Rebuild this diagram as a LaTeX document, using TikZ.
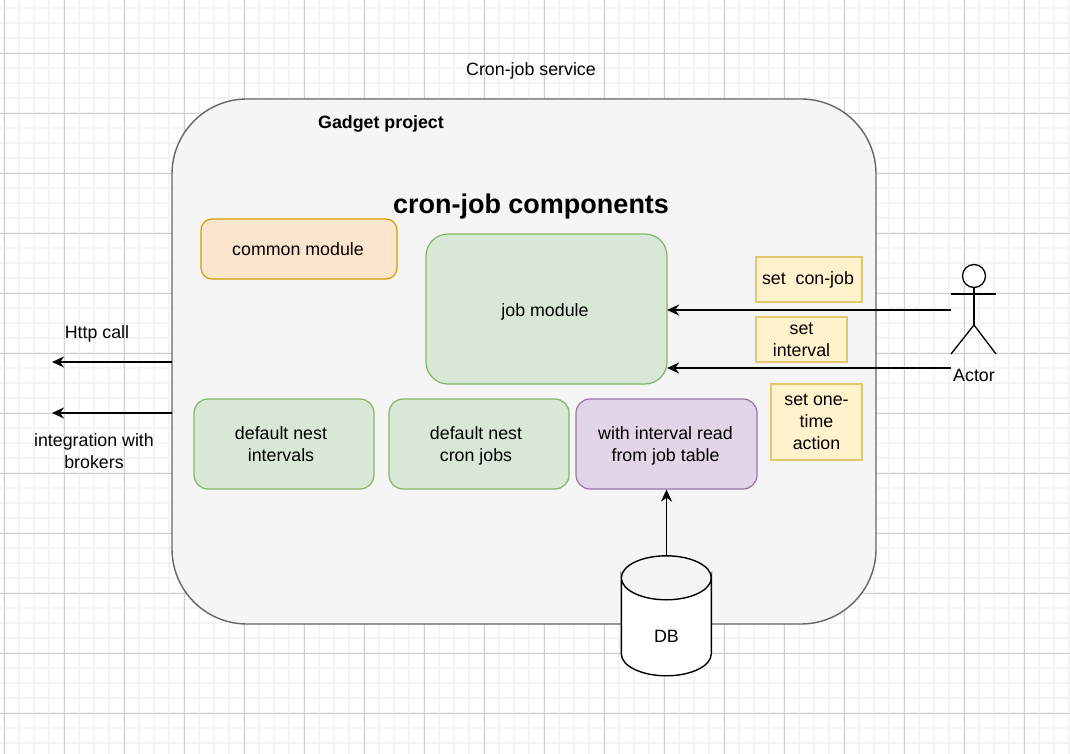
\documentclass[tikz,border=0pt]{standalone}
\usepackage{fontspec}
\setmainfont{Liberation Sans}
\usetikzlibrary{arrows.meta}
\definecolor{gmaj}{HTML}{CFCFCF}
\definecolor{gmin}{HTML}{F4F4F4}
\tikzset{
  x=1pt,y=-1pt,
  txt/.style={font=\fontsize{17.8}{22}\selectfont,align=center,inner sep=0pt,text=black},
  rbox/.style={draw=#1,line width=1.2pt,rounded corners=11pt,txt,inner sep=0pt},
  yellowbox/.style={draw=yel,fill=yelf,line width=1.4pt,txt,inner sep=0pt},
  conn/.style={draw=black,line width=1.5pt,-{Stealth[length=12pt,width=11pt]}},
  actorline/.style={draw=black,line width=1.3pt},
}
\definecolor{grnf}{HTML}{D9E8D6}\definecolor{grn}{HTML}{82B366}
\definecolor{orf}{HTML}{FBE5CD}\definecolor{orl}{HTML}{D79B00}
\definecolor{purf}{HTML}{E1D5E7}\definecolor{pur}{HTML}{9673A6}
\definecolor{yelf}{HTML}{FFF2CC}\definecolor{yel}{HTML}{E3C76F}
\begin{document}
\begin{tikzpicture}
\useasboundingbox (0,0) rectangle (1070,754);
\fill[white] (0,0) rectangle (1070,754);
% grid
\foreach \i in {0,...,71} {\draw[gmin,line width=1.6pt] ({4+15*\i},0) -- ({4+15*\i},754);}
\foreach \i in {-3,...,50} {\draw[gmin,line width=1.6pt] (0,{53+15*\i}) -- (1070,{53+15*\i});}
\foreach \i in {0,...,17} {\draw[gmaj,line width=0.8pt] ({4+60*\i},0) -- ({4+60*\i},754);}
\foreach \i in {0,...,12} {\draw[gmaj,line width=0.8pt] (0,{-7+60*\i}) -- (1070,{-7+60*\i});}
% container
\node[draw=black!60,fill=black!4,line width=1.4pt,rounded corners=75pt,minimum width=704pt,minimum height=525pt,inner sep=0pt] (project) at (524,361.5) {};
\node[txt] (title) at (531,71) {Cron-job service};
\node[txt,font=\fontsize{17.8}{22}\selectfont\bfseries] (gadget) at (381,124) {Gadget project};
\node[txt,font=\fontsize{27}{30}\selectfont\bfseries] (comps) at (531,207) {cron-job components};
% modules
\node[rbox=orl,fill=orf,minimum width=196pt,minimum height=60pt] (common) at (299,249) {\hspace*{-2pt}common module};
\node[rbox=grn,fill=grnf,rounded corners=22pt,minimum width=241pt,minimum height=150pt] (job) at (546.5,309) {\rule{0pt}{18pt}\hspace*{-3pt}job module};
\node[rbox=grn,fill=grnf,rounded corners=14pt,minimum width=180pt,minimum height=90pt] (intervals) at (284,444) {\hspace*{-6pt}default nest\\\hspace*{-6pt}intervals};
\node[rbox=grn,fill=grnf,rounded corners=14pt,minimum width=180pt,minimum height=90pt] (cron) at (479,444) {\rule{0pt}{16pt}\hspace*{-6pt}default nest\\\hspace*{-6pt}cron jobs};
\node[rbox=pur,fill=purf,rounded corners=14pt,minimum width=181pt,minimum height=90pt] (table) at (666.5,444) {\rule{0pt}{16pt}\hspace*{-2pt}with interval read\\\hspace*{-2pt}from job table};
% yellow labels
\node[yellowbox,minimum width=106pt,minimum height=45pt] (l1) at (809,279.5) {\hspace*{-2pt}set\ \ con-job};
\node[yellowbox,minimum width=91pt,minimum height=45pt] (l2) at (801.5,339.5) {set\\interval};
\node[yellowbox,minimum width=91pt,minimum height=76pt] (l3) at (816.5,422) {set one-\\time\\action};
% actor
\coordinate (actorA) at (951,310);
\coordinate (actorB) at (951,368);
\node[draw=black,fill=white,circle,line width=1.3pt,minimum size=23pt,inner sep=0pt] (head) at (974,276) {};
\coordinate (hip) at (974,325);
\coordinate (armL) at (951,294);
\coordinate (armR) at (996,294);
\coordinate (legL) at (951,354);
\coordinate (legR) at (996,354);
\draw[actorline] (head.south) -- (hip);
\draw[actorline] (armL) -- (armR);
\draw[actorline] (legL) -- (hip) -- (legR);
\node[txt] (actor) at (974,375) {Actor};
% side labels
\coordinate (h1) at (172,362);
\coordinate (h2) at (52,362);
\coordinate (b1) at (172,413);
\coordinate (b2) at (52,413);
\node[txt] (http) at (97,334) {Http call};
\node[txt] (brokers) at (94,451) {integration with\\brokers};
% DB
\node[inner sep=0pt,minimum width=90pt,minimum height=120pt] (db) at (666.5,616) {};
\draw[fill=white,draw=black,line width=1.4pt] (db.north west)+(0,22) arc[start angle=180,end angle=0,x radius=45,y radius=22] -- ++(0,76) arc[start angle=0,end angle=180,x radius=45,y radius=22] -- cycle;
\draw[draw=black,line width=1.4pt] (db.north west)+(0,22) arc[start angle=180,end angle=360,x radius=45,y radius=22];
\node[txt] at (db) [yshift=-20pt] (dblabel) {DB};
% connectors
\draw[conn] (actorA) -- ([xshift=-0.5pt]actorA -| job.east);
\draw[conn] (actorB) -- ([xshift=-0.5pt]actorB -| job.east);
\draw[conn] (h1) -- (h2);
\draw[conn] (b1) -- (b2);
\draw[conn,line width=1.8pt] (db.north) -- (table.south);
\end{tikzpicture}
\end{document}
